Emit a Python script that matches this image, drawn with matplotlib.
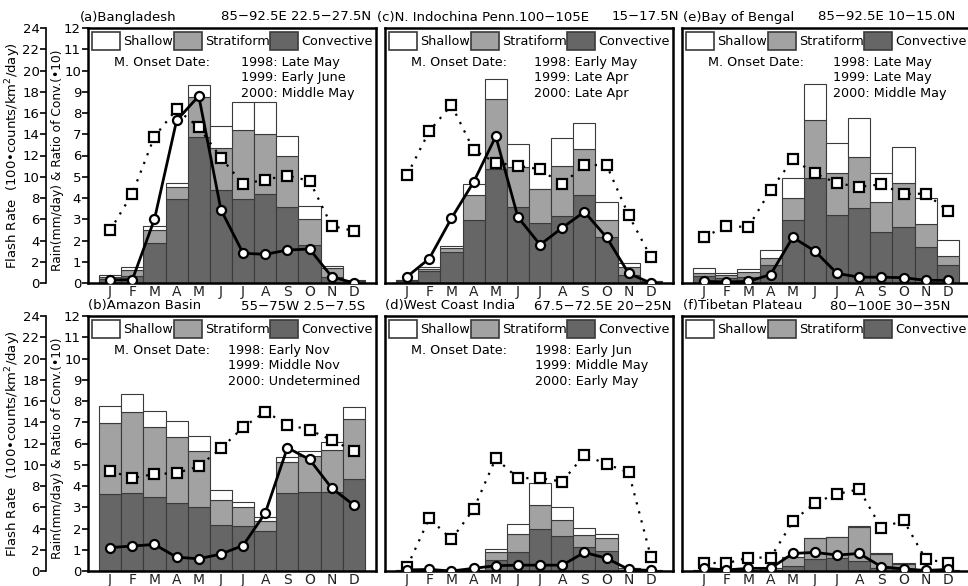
import matplotlib.pyplot as plt
import numpy as np
from matplotlib.patches import Patch

months = ['J', 'F', 'M', 'A', 'M', 'J', 'J', 'A', 'S', 'O', 'N', 'D']

# rain (mm/day): tops of convective, stratiform and total (shallow) layers
a_conv = [0.2, 0.35, 1.9, 3.95, 6.89, 4.37, 3.95, 4.18, 3.58, 1.78, 0.28, 0.05]
a_strat = [0.3, 0.6, 2.5, 4.5, 8.77, 6.34, 7.2, 7.0, 5.97, 3.0, 0.7, 0.1]
a_total = [0.4, 0.75, 2.67, 4.72, 9.3, 7.4, 8.5, 8.5, 6.93, 3.63, 0.8, 0.12]
a_flash = [0.3, 0.3, 6.0, 15.3, 17.6, 6.9, 2.8, 2.7, 3.1, 3.2, 0.6, 0.0]
a_ratio = [2.48, 4.21, 6.89, 8.18, 7.33, 5.9, 4.65, 4.87, 5.05, 4.81, 2.69, 2.45]

c_conv = [0.1, 0.57, 1.46, 2.96, 5.36, 3.58, 2.83, 3.14, 4.13, 2.17, 0.36, 0.05]
c_strat = [0.12, 0.68, 1.67, 4.13, 8.66, 5.47, 4.42, 5.52, 6.29, 2.96, 0.75, 0.08]
c_total = [0.16, 0.75, 1.75, 4.64, 9.59, 6.53, 4.42, 6.84, 7.52, 3.79, 0.96, 0.1]
c_flash = [0.6, 2.3, 6.1, 9.5, 13.8, 6.2, 3.6, 5.2, 6.7, 4.3, 0.9, 0.0]
c_ratio = [5.08, 7.15, 8.38, 6.26, 5.66, 5.52, 5.35, 4.64, 5.55, 5.55, 3.19, 1.22]

e_conv = [0.31, 0.25, 0.28, 0.83, 2.96, 4.95, 3.19, 3.55, 2.41, 2.64, 1.7, 0.86]
e_strat = [0.47, 0.36, 0.52, 1.18, 3.98, 7.67, 5.16, 5.94, 3.82, 4.69, 2.8, 1.26]
e_total = [0.72, 0.47, 0.68, 1.57, 4.92, 9.37, 6.6, 7.78, 5.19, 6.38, 3.98, 2.04]
e_flash = [0.15, 0.1, 0.15, 0.8, 4.3, 3.0, 0.9, 0.55, 0.55, 0.5, 0.25, 0.25]
e_ratio = [2.17, 2.67, 2.64, 4.37, 5.82, 5.16, 4.69, 4.53, 4.64, 4.18, 4.21, 3.4]

b_conv = [3.62, 3.66, 3.49, 3.18, 3.03, 2.17, 2.12, 1.86, 3.66, 3.73, 3.74, 4.32]
b_strat = [6.95, 7.47, 6.76, 6.29, 5.66, 3.33, 2.99, 2.36, 5.11, 5.42, 5.69, 7.15]
b_total = [7.78, 8.33, 7.55, 7.04, 6.37, 3.8, 3.25, 2.55, 5.35, 5.66, 6.05, 7.74]
b_flash = [2.2, 2.35, 2.5, 1.3, 1.15, 1.6, 2.4, 5.45, 11.6, 10.5, 7.8, 6.2]
b_ratio = [4.72, 4.37, 4.56, 4.61, 4.92, 5.77, 6.76, 7.5, 6.89, 6.64, 6.16, 5.66]

d_conv = [0.02, 0.02, 0.01, 0.03, 0.5, 0.91, 2.0, 1.65, 1.13, 0.94, 0.06, 0.02]
d_strat = [0.04, 0.03, 0.02, 0.05, 0.91, 1.73, 3.1, 2.41, 1.7, 1.54, 0.12, 0.04]
d_total = [0.05, 0.04, 0.03, 0.06, 1.05, 2.2, 4.14, 3.03, 2.01, 1.73, 0.15, 0.05]
d_flash = [0.1, 0.15, 0.0, 0.25, 0.5, 0.55, 0.55, 0.55, 1.75, 1.2, 0.15, 0.05]
d_ratio = [0.2, 2.48, 1.49, 2.91, 5.3, 4.37, 4.37, 4.21, 5.46, 5.03, 4.64, 0.68]

f_conv = [0.01, 0.01, 0.01, 0.05, 0.24, 0.55, 0.6, 0.47, 0.16, 0.08, 0.01, 0.01]
f_strat = [0.03, 0.03, 0.03, 0.13, 0.66, 1.53, 1.6, 2.09, 0.82, 0.35, 0.03, 0.03]
f_total = [0.03, 0.03, 0.03, 0.14, 0.67, 1.54, 1.61, 2.1, 0.83, 0.36, 0.03, 0.03]
f_flash = [0.25, 0.1, 0.25, 0.25, 1.65, 1.75, 1.5, 1.65, 0.4, 0.2, 0.05, 0.15]
f_ratio = [0.39, 0.36, 0.63, 0.63, 2.33, 3.22, 3.62, 3.85, 2.01, 2.39, 0.55, 0.39]

a_onset = ['1998: Late May', '1999: Early June', '2000: Middle May']
c_onset = ['1998: Early May', '1999: Late Apr', '2000: Late Apr']
e_onset = ['1998: Late May', '1999: Late May', '2000: Middle May']
b_onset = ['1998: Early Nov', '1999: Middle Nov', '2000: Undetermined']
d_onset = ['1998: Early Jun', '1999: Middle May', '2000: Early May']

W, H = 968, 586
STRAT = '#a2a2a2'
CONV = '#666666'
EDGE = '#3a3a3a'
FS = 9.2

fig = plt.figure(figsize=(W / 100, H / 100), dpi=100)


def fx(px):
    return px / W


def fy(py):
    return 1 - py / H


def panel(left, top, conv, strat, total, flash, ratio, onset, yr_x, show_y):
    ax = fig.add_axes([fx(left), fy(top + 255), fx(288), 255 / H])
    x = np.arange(1, 13)
    conv = np.array(conv)
    strat = np.array(strat)
    total = np.array(total)
    kw = dict(width=1.0, edgecolor=EDGE, linewidth=0.8, zorder=1)
    ax.bar(x, conv, color=CONV, **kw)
    ax.bar(x, strat - conv, bottom=conv, color=STRAT, **kw)
    ax.bar(x, total - strat, bottom=strat, color='white', **kw)
    ax.plot(x, ratio, linestyle=(0, (1, 3.2)), color='black', lw=1.6,
            marker='s', ms=6.5, mfc='white', mec='black', mew=1.6, zorder=3)
    ax.set_xlim(0, 13)
    ax.set_ylim(0, 12)
    ax.set_xticks(x)
    ax.set_xticklabels(months, fontsize=10, color='#222222')
    ax.tick_params(axis='x', length=0, pad=1.5)
    for s in ax.spines.values():
        s.set_linewidth(1.8)
    if show_y:
        ax.set_yticks(range(13))
        ax.tick_params(axis='y', length=4, width=1.2, labelsize=9.5, pad=1)
        ax.set_ylabel('Rain(mm/day) & Ratio of Conv.(•10)', fontsize=8.8)
        ax.yaxis.set_label_coords(-0.082, 0.48)
    else:
        ax.set_yticks([])

    ax2 = ax.twinx()
    ax2.plot(x, flash, '-', color='black', lw=2.0, marker='o', ms=6.5,
             mfc='white', mec='black', mew=1.6, zorder=4)
    ax2.set_ylim(0, 24)
    ax2.set_xlim(0, 13)
    if show_y:
        for k in ['top', 'bottom', 'right']:
            ax2.spines[k].set_visible(False)
        ax2.spines['left'].set_position(('outward', 30))
        ax2.spines['left'].set_linewidth(1.2)
        ax2.yaxis.tick_left()
        ax2.yaxis.set_label_position('left')
        ax2.set_yticks(range(0, 25, 2))
        ax2.tick_params(axis='y', length=4, width=1.2, labelsize=9.5, pad=1)
        ax2.set_ylabel('Flash Rate  (100•counts/km$^2$/day)', fontsize=9.5)
        ax2.yaxis.set_label_coords(-0.225, 0.5)
    else:
        ax2.set_axis_off()

    handles = [Patch(facecolor='white', edgecolor=EDGE, lw=1.2, label='Shallow'),
               Patch(facecolor=STRAT, edgecolor=EDGE, lw=1.2, label='Stratiform'),
               Patch(facecolor=CONV, edgecolor=EDGE, lw=1.2, label='Convective')]
    ax.legend(handles=handles, loc='upper left', bbox_to_anchor=(0.0, 1.0),
              ncol=3, frameon=False, fontsize=FS, handlelength=2.2,
              handleheight=1.8, handletextpad=0.25, columnspacing=0.05,
              borderaxespad=0.2, borderpad=0.1)
    if onset:
        ys = [0.863, 0.804, 0.745]
        ax.text(0.09, ys[0], 'M. Onset Date:', transform=ax.transAxes,
                fontsize=FS, va='center', ha='left')
        for yy, s in zip(ys, onset):
            ax.text(yr_x, yy, s, transform=ax.transAxes, fontsize=FS,
                    va='center', ha='left')
    return ax


panel(88, 28, a_conv, a_strat, a_total, a_flash, a_ratio, a_onset, 0.531, True)
panel(385, 28, c_conv, c_strat, c_total, c_flash, c_ratio, c_onset, 0.517, False)
panel(682, 28, e_conv, e_strat, e_total, e_flash, e_ratio, e_onset, 0.524, False)
panel(88, 316, b_conv, b_strat, b_total, b_flash, b_ratio, b_onset, 0.486, True)
panel(385, 316, d_conv, d_strat, d_total, d_flash, d_ratio, d_onset, 0.521, False)
panel(682, 316, f_conv, f_strat, f_total, f_flash, f_ratio, None, 0.5, False)

# panel headers
tk = dict(fontsize=9.5, va='center')
fig.text(fx(80), fy(17), '(a)Bangladesh', ha='left', **tk)
fig.text(fx(371), fy(17), '85\u221292.5E 22.5\u221227.5N', ha='right', **tk)
fig.text(fx(377), fy(17), '(c)N. Indochina Penn.100\u2212105E', ha='left', **tk)
fig.text(fx(679), fy(17), '15\u221217.5N', ha='right', **tk)
fig.text(fx(683), fy(17), '(e)Bay of Bengal', ha='left', **tk)
fig.text(fx(955), fy(17), '85\u221292.5E 10\u221215.0N', ha='right', **tk)
fig.text(fx(88), fy(306), '(b)Amazon Basin', ha='left', **tk)
fig.text(fx(365), fy(306), '55\u221275W 2.5\u22127.5S', ha='right', **tk)
fig.text(fx(385), fy(306), '(d)West Coast India', ha='left', **tk)
fig.text(fx(672), fy(306), '67.5\u221272.5E 20\u221225N', ha='right', **tk)
fig.text(fx(683), fy(306), '(f)Tibetan Plateau', ha='left', **tk)
fig.text(fx(950), fy(306), '80\u2212100E 30\u221235N', ha='right', **tk)

fig.savefig('out.png', dpi=100)
